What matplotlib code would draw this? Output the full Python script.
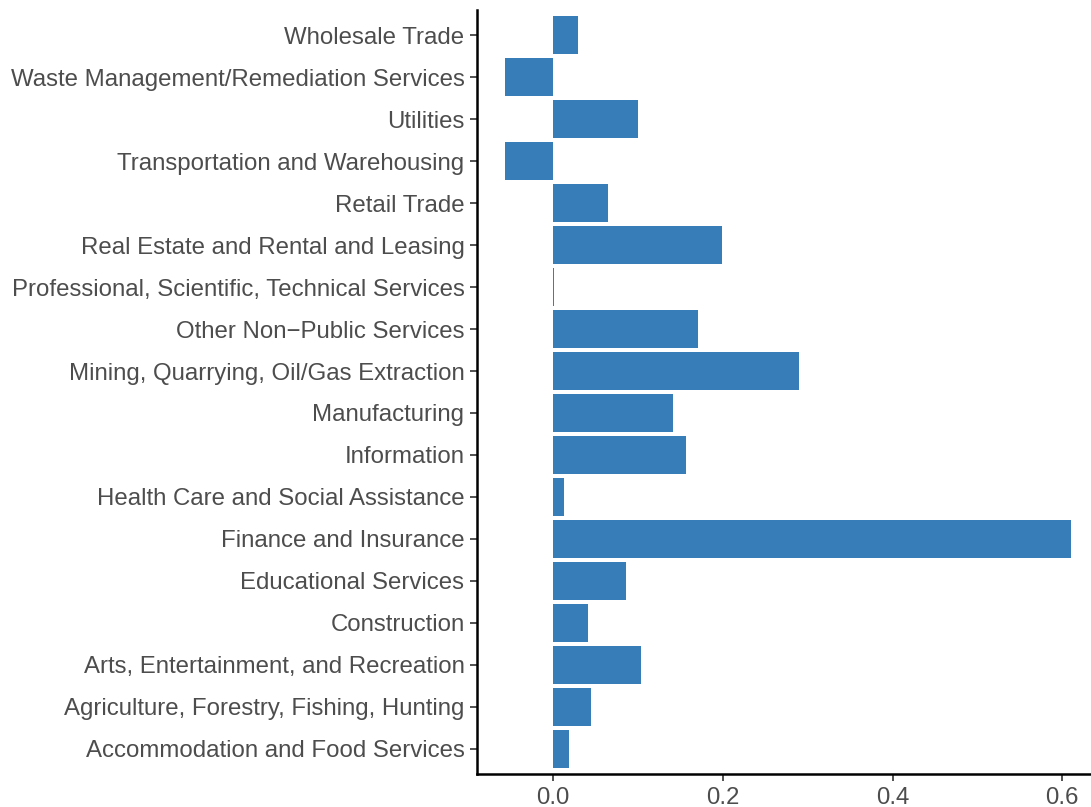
import matplotlib
matplotlib.use("Agg")
import matplotlib.pyplot as plt

# bottom to top
industries = [
    "Accommodation and Food Services",
    "Agriculture, Forestry, Fishing, Hunting",
    "Arts, Entertainment, and Recreation",
    "Construction",
    "Educational Services",
    "Finance and Insurance",
    "Health Care and Social Assistance",
    "Information",
    "Manufacturing",
    "Mining, Quarrying, Oil/Gas Extraction",
    "Other Non\u2212Public Services",
    "Professional, Scientific, Technical Services",
    "Real Estate and Rental and Leasing",
    "Retail Trade",
    "Transportation and Warehousing",
    "Utilities",
    "Waste Management/Remediation Services",
    "Wholesale Trade",
]
values = [0.019, 0.045, 0.104, 0.041, 0.086, 0.610, 0.013, 0.156, 0.141,
          0.290, 0.171, 0.001, 0.199, 0.065, -0.057, 0.100, -0.057, 0.0295]
xticks = [0.0, 0.2, 0.4, 0.6]

plt.rcParams["font.family"] = ["Liberation Sans", "DejaVu Sans"]

fig = plt.figure(figsize=(10.91, 8.07), dpi=100)
# axes runs slightly past the right edge like the original
ax = fig.add_axes([477/1091, 33/807, (1099-477)/1091, (774-10)/807])

pos = list(range(len(industries)))
ax.barh(pos, values, height=0.9, color="#377EB8")

ax.set_xlim(-0.0899, 0.6433)
ax.set_ylim(-0.6, len(industries) - 0.4)
ax.set_yticks(pos)
ax.set_yticklabels(industries)
ax.set_xticks(xticks)
ax.set_xticklabels(["0.0", "0.2", "0.4", "0.6"])

for s in ["top", "right"]:
    ax.spines[s].set_visible(False)
for s in ["left", "bottom"]:
    ax.spines[s].set_linewidth(1.8)
    ax.spines[s].set_color("black")

ax.tick_params(axis="both", length=5, width=1.2, color="#333333",
               labelcolor="#4D4D4D", labelsize=17.3, pad=4)

fig.savefig("out.png", dpi=100)
